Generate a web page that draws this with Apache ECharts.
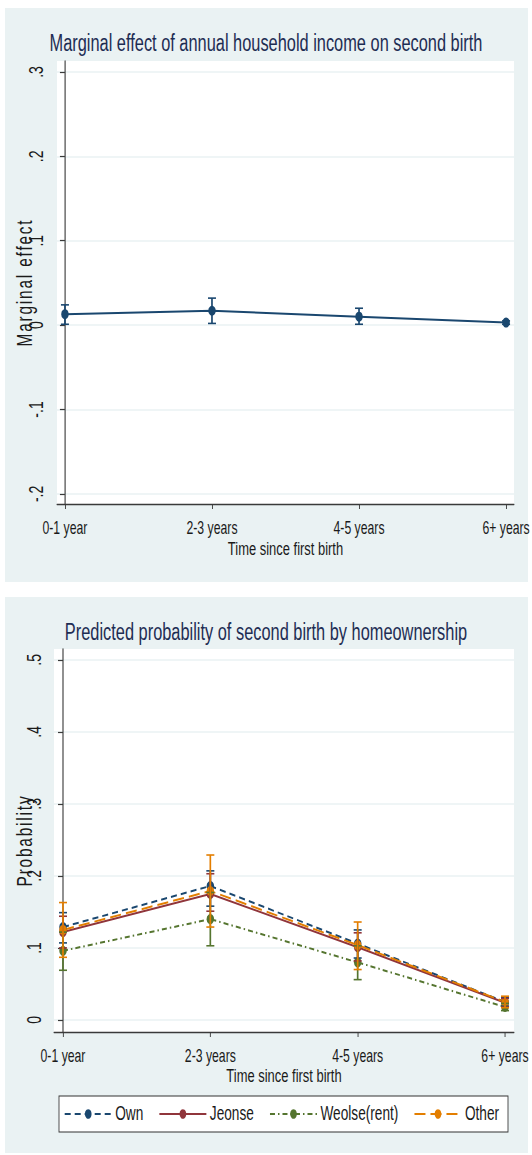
<!DOCTYPE html>
<html><head><meta charset="utf-8">
<script src="https://cdn.jsdelivr.net/npm/echarts@6/dist/echarts.min.js"></script>
<style>
html,body{margin:0;padding:0;background:#fff;overflow:hidden}
#wrap{width:532px;height:1155px;overflow:hidden;position:relative}
#c{width:760px;height:1155px;transform:scaleX(0.7);transform-origin:0 0;position:absolute;left:0;top:0}
#c2{width:532px;height:1650px;transform:scaleY(0.7);transform-origin:0 0;position:absolute;left:0;top:0;pointer-events:none}
</style>
</head><body><div id="wrap"><div id="c"></div><div id="c2"></div></div>
<script>
// ---------- data ----------
const categories = ['0-1 year', '2-3 years', '4-5 years', '6+ years'];
const catIdx = [0, 1, 2, 3];

const meTicks = [-0.2, -0.1, 0, 0.1, 0.2, 0.3];
const meTickLabels = ['-.2', '-.1', '0', '.1', '.2', '.3'];
const meEst  = [0.013, 0.017, 0.010, 0.003];
const meLow  = [0.001, 0.002, 0.001, 0.001];
const meHigh = [0.024, 0.032, 0.020, 0.005];

const probTicks = [0, 0.1, 0.2, 0.3, 0.4, 0.5];
const probTickLabels = ['0', '.1', '.2', '.3', '.4', '.5'];
const groupNames = ['Own', 'Jeonse', 'Weolse(rent)', 'Other'];
const ownEst  = [0.129, 0.186, 0.106, 0.025];
const ownLow  = [0.107, 0.158, 0.086, 0.019];
const ownHigh = [0.149, 0.207, 0.125, 0.031];
const jeoEst  = [0.122, 0.175, 0.101, 0.024];
const jeoLow  = [0.100, 0.151, 0.082, 0.018];
const jeoHigh = [0.144, 0.203, 0.121, 0.030];
const weoEst  = [0.096, 0.140, 0.080, 0.018];
const weoLow  = [0.069, 0.103, 0.056, 0.013];
const weoHigh = [0.122, 0.177, 0.103, 0.023];
const othEst  = [0.125, 0.179, 0.104, 0.025];
const othLow  = [0.087, 0.129, 0.070, 0.017];
const othHigh = [0.163, 0.229, 0.136, 0.033];

// ---------- layout / style ----------
// Text in the reference is a narrow face: the main chart is drawn 760 wide and shown at 0.7 horizontally,
// the rotated y-axis texts are drawn in a second layer that is compressed vertically instead.
const SX = 0.7, SY = 0.7;
function hx(v) { return v / SX; }
function vy(v) { return v / SY; }
const FONT = "'Liberation Sans',Arial,sans-serif";
const PANEL = '#eaf2f3';
const AXC = '#3a3a3a';
const TXT = '#1a1a1a';
const C = {navy: '#1a476f', maroon: '#90353b', green: '#55752f', orange: '#e37e00'};
const GRIDS = [
  {left: 57, top: 61, width: 457, height: 443},
  {left: 54, top: 649, width: 460, height: 383}
];
const X_RANGE = [[-0.054, 3.054], [-0.061, 3.061]];
const Y_RANGE = [[-0.212, 0.313], [-0.0167, 0.515]];
const Y_TICKS = [meTicks, probTicks];
const Y_LABELS = [meTickLabels, probTickLabels];
const Y_NAMES = ['Marginal effect', 'Probability'];

function lab(ticks, labels) {
  return function (v) {
    for (let i = 0; i < ticks.length; i++) if (Math.abs(ticks[i] - v) < 1e-6) return labels[i];
    return '';
  };
}

function errRender(color) {
  return function (params, api) {
    const x = api.value(0), lo = api.value(1), hi = api.value(2);
    const p1 = api.coord([x, hi]), p2 = api.coord([x, lo]);
    const w = hx(4);
    return {type: 'group', children: [
      {type: 'line', shape: {x1: p1[0], y1: p1[1], x2: p2[0], y2: p2[1]}, style: {stroke: color, lineWidth: 2.4}},
      {type: 'line', shape: {x1: p1[0] - w, y1: p1[1], x2: p1[0] + w, y2: p1[1]}, style: {stroke: color, lineWidth: 1.6}},
      {type: 'line', shape: {x1: p2[0] - w, y1: p2[1], x2: p2[0] + w, y2: p2[1]}, style: {stroke: color, lineWidth: 1.6}}
    ]};
  };
}

function xAxisCfg(gi, nameGap) {
  return {
    type: 'value', gridIndex: gi, min: X_RANGE[gi][0], max: X_RANGE[gi][1],
    name: 'Time since first birth', nameLocation: 'middle', nameGap: nameGap,
    nameTextStyle: {fontFamily: FONT, fontSize: 18.5, color: TXT},
    axisLine: {show: true, onZero: false, lineStyle: {color: AXC, width: 1.3}},
    axisTick: {show: true, length: 5, customValues: catIdx, lineStyle: {color: AXC, width: 1.3}},
    axisLabel: {customValues: catIdx, margin: 15, fontFamily: FONT, fontSize: 17.5, color: TXT,
      formatter: function (v) { return categories[Math.round(v)]; }},
    splitLine: {show: false}
  };
}

function yAxisCfg(gi) {
  return {
    type: 'value', gridIndex: gi, min: Y_RANGE[gi][0], max: Y_RANGE[gi][1],
    axisLine: {show: true, lineStyle: {color: AXC, width: 1.6}},
    axisTick: {show: true, length: hx(5), customValues: Y_TICKS[gi], lineStyle: {color: AXC, width: 1.2}},
    axisLabel: {show: false, customValues: Y_TICKS[gi]},
    splitLine: {show: true, lineStyle: {color: PANEL, width: 1.5}}
  };
}

function pts(est) { return catIdx.map(function (i) { return [i, est[i]]; }); }
function cis(lo, hi) { return catIdx.map(function (i) { return [i, lo[i], hi[i]]; }); }

function lineSeries(name, gi, est, color, dash) {
  return {
    type: 'line', name: name, xAxisIndex: gi, yAxisIndex: gi, data: pts(est),
    symbol: 'circle', symbolSize: [hx(7.5), 10], showSymbol: true,
    lineStyle: {color: color, width: 2, type: dash},
    itemStyle: {color: color}, z: 3, animation: false
  };
}
function ciSeries(name, gi, lo, hi, color) {
  return {
    type: 'custom', name: name, xAxisIndex: gi, yAxisIndex: gi, data: cis(lo, hi),
    encode: {x: 0, y: [1, 2]}, renderItem: errRender(color), z: 4, animation: false, silent: true
  };
}

// ---------- main layer ----------
const chart = echarts.init(document.getElementById('c'), null, {renderer: 'svg', width: 760, height: 1155});
chart.setOption({
  animation: false,
  backgroundColor: '#fff',
  graphic: [
    {type: 'rect', z: -10, shape: {x: hx(5), y: 8, width: hx(523), height: 574}, style: {fill: PANEL}},
    {type: 'rect', z: -10, shape: {x: hx(5), y: 597, width: hx(523), height: 556}, style: {fill: PANEL}},
    {type: 'rect', z: 1, shape: {x: hx(59), y: 1096, width: hx(449), height: 36}, style: {fill: '#fff', stroke: '#333', lineWidth: 1.2}}
  ],
  title: [
    {text: 'Marginal effect of annual household income on second birth', left: 'center', top: 26,
      textStyle: {fontFamily: FONT, fontSize: 23.4, fontWeight: 'normal', color: '#1e2d53'}},
    {text: 'Predicted probability of second birth by homeownership', left: 'center', top: 615,
      textStyle: {fontFamily: FONT, fontSize: 23.4, fontWeight: 'normal', color: '#1e2d53'}}
  ],
  legend: {
    data: groupNames, left: hx(64), top: 1104, padding: 0, width: 720,
    itemWidth: hx(47), itemHeight: 12, itemGap: 22, z: 5,
    textStyle: {fontFamily: FONT, fontSize: 19.5, color: TXT}
  },
  grid: GRIDS.map(function (g) {
    return {left: hx(g.left), top: g.top, width: hx(g.width), height: g.height,
      show: true, backgroundColor: '#fff', borderWidth: 0, outerBoundsMode: 'none'};
  }),
  xAxis: [xAxisCfg(0, 35), xAxisCfg(1, 30)],
  yAxis: [yAxisCfg(0), yAxisCfg(1)],
  series: [
    lineSeries('Marginal effect', 0, meEst, C.navy, 'solid'),
    ciSeries('ME CI', 0, meLow, meHigh, C.navy),

    lineSeries('Own', 1, ownEst, C.navy, [hx(6), hx(4)]),
    lineSeries('Jeonse', 1, jeoEst, C.maroon, 'solid'),
    lineSeries('Weolse(rent)', 1, weoEst, C.green, [hx(5), hx(3), hx(1.5), hx(3)]),
    lineSeries('Other', 1, othEst, C.orange, [hx(11), hx(5)]),
    ciSeries('Own CI', 1, ownLow, ownHigh, C.navy),
    ciSeries('Jeonse CI', 1, jeoLow, jeoHigh, C.maroon),
    ciSeries('Weolse CI', 1, weoLow, weoHigh, C.green),
    ciSeries('Other CI', 1, othLow, othHigh, C.orange)
  ]
});

// ---------- rotated y-axis text layer (same scales, compressed vertically) ----------
const chart2 = echarts.init(document.getElementById('c2'), null, {renderer: 'svg', width: 532, height: 1650});
const NAME_GAP = [22, 19];
const LABEL_MARGIN = [11, 10];
chart2.setOption({
  animation: false,
  grid: GRIDS.map(function (g) {
    return {left: g.left, top: vy(g.top), width: g.width, height: vy(g.height), show: false, outerBoundsMode: 'none'};
  }),
  xAxis: [0, 1].map(function (gi) {
    return {type: 'value', gridIndex: gi, min: X_RANGE[gi][0], max: X_RANGE[gi][1], show: false};
  }),
  yAxis: [0, 1].map(function (gi) {
    return {
      type: 'value', gridIndex: gi, min: Y_RANGE[gi][0], max: Y_RANGE[gi][1],
      name: Y_NAMES[gi], nameLocation: 'middle', nameRotate: 90, nameGap: NAME_GAP[gi], nameMoveOverlap: false,
      nameTextStyle: {fontFamily: FONT, fontSize: 22, color: TXT},
      axisLine: {show: false}, axisTick: {show: false}, splitLine: {show: false},
      axisLabel: {customValues: Y_TICKS[gi], rotate: 90, margin: LABEL_MARGIN[gi], fontFamily: FONT, fontSize: 20, color: TXT,
        formatter: lab(Y_TICKS[gi], Y_LABELS[gi])}
    };
  }),
  series: []
});
// the reference sets the y-axis titles letter-spaced
document.querySelectorAll('#c2 text').forEach(function (t) {
  if (Y_NAMES.indexOf(t.textContent) >= 0) t.style.letterSpacing = '2.6px';
});
</script>
</body></html>
